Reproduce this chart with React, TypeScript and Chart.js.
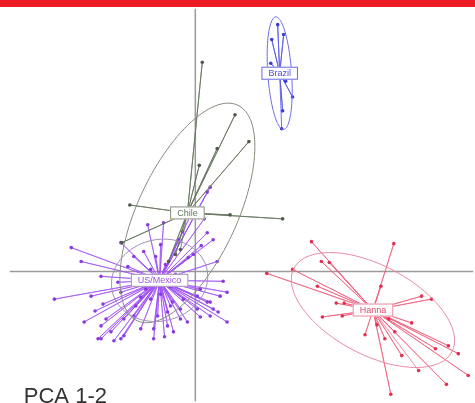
import React, { useEffect, useRef } from "react";
import { Chart, registerables } from "chart.js";

Chart.register(...registerables);

// Group names and colours
const groupNames = ["Brazil", "Chile", "US/Mexico", "Hanna"];
const lineColors = ["rgba(90,90,230,0.85)", "rgba(105,120,98,0.85)", "rgba(160,80,245,0.7)", "rgba(240,90,120,0.7)"];
const pointColors = ["#3c3cd0", "#4f5a4c", "#8a3be0", "#e03050"];
const ellipseColors = ["#6a6ae0", "#858c7c", "#a08cb8", "#e88aa0"];
const labelColors = ["#4a4ad8", "#5f7a58", "#9a55e8", "#e04868"];

// Group centroids on PCA axes 1 and 2
const centroidX = [1.70, -0.16, -0.72, 3.58];
const centroidY = [4.00, 1.18, -0.18, -0.78];

// Ellipse half-axes and rotation (degrees)
const ellipseA = [1.14, 2.4, 0.98, 1.8];
const ellipseB = [0.24, 1.0, 0.82, 0.9];
const ellipseAngle = [94, 65, 15, -28];

// Individual scores, Brazil
const brazilX = [1.54, 1.78, 1.66, 1.52, 1.62, 1.82, 1.96, 1.76, 1.74];
const brazilY = [4.68, 4.78, 4.98, 4.20, 4.04, 3.84, 3.52, 3.24, 2.88];

// Individual scores, Chile
const chileX = [0.80, 1.08, 0.44, 0.08, 0.14, -1.32, 1.76, 0.70, -1.48, -0.40, -0.54, -0.30];
const chileY = [3.16, 2.62, 2.48, 2.14, 4.22, 1.34, 1.06, 1.14, 0.58, 0.34, 0.20, 0.44];

// Individual scores, US/Mexico
const usmexX = [
  -2.50, -2.84, -2.10, -2.24, -1.90, -1.90, -1.70, -1.44, -1.24, -0.84,
  -0.44, -0.16, 0.10, 0.36, 0.64, 0.50, 0.64, 0.30, 0.44, 0.36,
  0.24, -0.04, -0.14, -0.96, -0.64, -1.50, -1.24, -1.90, -1.56, -2.30,
  -1.10, -1.44, -0.30, -0.50, 0.04, 0.10, -0.76, -0.56, -1.50, -1.86,
  -1.80, -1.50, -1.10, -0.56, -0.30, 0.04, 0.24, 0.30, -0.24, -0.50,
  0.30, 0.24, -0.90, -0.60, -0.40, -1.00, -0.70, -1.20, -0.20, -0.90,
  -0.34, -0.70, -1.96, -1.64, -0.84, -0.06, 0.18, -1.36, -1.04, -0.26,
  0.56, -2.02, -0.62, -1.20, 0.12, -0.46, -0.80, 0.46
];
const usmexY = [
  0.48, -0.56, -0.50, -1.02, -1.10, -1.36, -1.22, -1.30, -0.90, -1.16,
  -1.22, -1.02, -0.92, -0.76, -1.02, -0.50, -0.42, -0.62, 0.20, 0.64,
  0.78, 0.34, 0.28, 0.94, 0.98, 0.58, 0.30, -0.10, -0.22, 0.20,
  -0.52, -0.96, -0.76, -0.70, -0.50, -0.36, -0.90, -0.82, -0.42, -0.66,
  -0.96, -1.36, -1.16, -1.10, -0.96, -0.76, -0.62, -0.90, -0.56, -0.30,
  1.70, 1.60, 0.04, 0.14, -0.06, -0.36, -0.46, -0.16, -0.26, -0.56,
  0.64, 0.54, -1.36, -1.40, -1.36, 1.20, 1.06, 0.10, 0.40, 0.80,
  -0.20, -0.80, -1.32, -0.70, 0.52, -0.62, 0.30, -0.82
];

// Individual scores, Hanna
const hannaX = [
  2.34, 4.00, 1.44, 1.96, 2.54, 2.70, 3.74, 2.46, 2.84, 3.00,
  2.56, 2.96, 4.56, 4.76, 4.36, 3.66, 3.90, 4.02, 3.42, 3.82,
  4.16, 5.30, 4.84, 5.10, 5.06, 3.94, 5.50, 4.50
];
const hannaY = [
  0.60, 0.56, -0.04, 0.04, 0.20, 0.18, -0.30, -0.30, -0.64, -0.64,
  -0.92, -0.90, -0.50, -0.56, -1.04, -1.08, -0.96, -1.22, -1.28, -1.36,
  -1.70, -1.66, -1.56, -1.50, -2.28, -2.48, -2.10, -2.00
];

const scoresX = [brazilX, chileX, usmexX, hannaX];
const scoresY = [brazilY, chileY, usmexY, hannaY];

const chartTitle = "PCA 1-2";

// Star: centroid -> point -> centroid -> point ...
function starData(g: number) {
  const out: { x: number; y: number }[] = [];
  scoresX[g].forEach((x, i) => {
    out.push({ x: centroidX[g], y: centroidY[g] });
    out.push({ x, y: scoresY[g][i] });
  });
  return out;
}

const overlayPlugin = {
  id: "pcaOverlay",
  beforeDatasetsDraw(chart: any) {
    const { ctx, chartArea, scales } = chart;
    const x0 = scales.x.getPixelForValue(0);
    const y0 = scales.y.getPixelForValue(0);
    ctx.save();
    ctx.strokeStyle = "#9a9a9a";
    ctx.lineWidth = 1.5;
    ctx.beginPath();
    ctx.moveTo(x0, chartArea.top);
    ctx.lineTo(x0, chartArea.bottom);
    ctx.moveTo(chartArea.left + 8, y0);
    ctx.lineTo(chartArea.right, y0);
    ctx.stroke();
    ctx.restore();
  },
  afterDatasetsDraw(chart: any) {
    const { ctx, scales, chartArea } = chart;
    ctx.save();
    // ellipses
    groupNames.forEach((_, g) => {
      const th = (ellipseAngle[g] * Math.PI) / 180;
      ctx.strokeStyle = ellipseColors[g];
      ctx.lineWidth = 1;
      ctx.beginPath();
      for (let k = 0; k <= 120; k++) {
        const t = (k / 120) * Math.PI * 2;
        const ux = ellipseA[g] * Math.cos(t);
        const uy = ellipseB[g] * Math.sin(t);
        const dx = centroidX[g] + ux * Math.cos(th) - uy * Math.sin(th);
        const dy = centroidY[g] + ux * Math.sin(th) + uy * Math.cos(th);
        const px = scales.x.getPixelForValue(dx);
        const py = scales.y.getPixelForValue(dy);
        if (k === 0) ctx.moveTo(px, py);
        else ctx.lineTo(px, py);
      }
      ctx.stroke();
    });
    // group labels
    ctx.font = "9px Arial, sans-serif";
    ctx.textAlign = "center";
    ctx.textBaseline = "middle";
    groupNames.forEach((name, g) => {
      const px = scales.x.getPixelForValue(centroidX[g]);
      const py = scales.y.getPixelForValue(centroidY[g]);
      const w = ctx.measureText(name).width + 14;
      const h = 13;
      ctx.fillStyle = "#ffffff";
      ctx.fillRect(px - w / 2, py - h / 2, w, h);
      ctx.strokeStyle = ellipseColors[g];
      ctx.lineWidth = 1;
      ctx.strokeRect(px - w / 2 + 0.5, py - h / 2 + 0.5, w - 1, h - 1);
      ctx.fillStyle = labelColors[g];
      ctx.fillText(name, px, py + 0.5);
    });
    // plane caption
    ctx.font = "22px Arial, sans-serif";
    ctx.textAlign = "left";
    ctx.textBaseline = "alphabetic";
    ctx.fillStyle = "#333333";
    ctx.fillText(chartTitle, chartArea.left + 22, chartArea.bottom + 2);
    ctx.restore();
  },
};

export default function App() {
  const canvasRef = useRef<HTMLCanvasElement | null>(null);

  useEffect(() => {
    document.body.style.margin = "0";
    const canvas = canvasRef.current;
    if (!canvas) return;
    const chart = new Chart(canvas, {
      type: "scatter",
      data: {
        datasets: groupNames.map((name, g) => ({
          label: name,
          data: starData(g),
          showLine: true,
          borderColor: lineColors[g],
          borderWidth: 1,
          pointBackgroundColor: pointColors[g],
          pointBorderColor: pointColors[g],
          pointBorderWidth: 0,
          pointRadius: (c: any) => (c.dataIndex % 2 === 1 ? 1.8 : 0),
          pointHoverRadius: 0,
        })),
      },
      options: {
        animation: false,
        responsive: false,
        maintainAspectRatio: false,
        layout: { padding: 0 },
        plugins: {
          legend: { display: false },
          tooltip: { enabled: false },
        },
        scales: {
          x: { type: "linear", min: -3.9, max: 5.6, display: false },
          y: { type: "linear", min: -2.62, max: 5.3, display: false },
        },
      },
      plugins: [overlayPlugin],
    } as any);
    return () => chart.destroy();
  }, []);

  return (
    <div style={{ position: "absolute", left: 0, top: 0, width: 475, height: 403, background: "#ffffff", overflow: "hidden" }}>
      <div style={{ height: 7, background: "#ed1c24" }} />
      <canvas ref={canvasRef} width={475} height={396} style={{ display: "block", width: 475, height: 396 }} />
    </div>
  );
}
